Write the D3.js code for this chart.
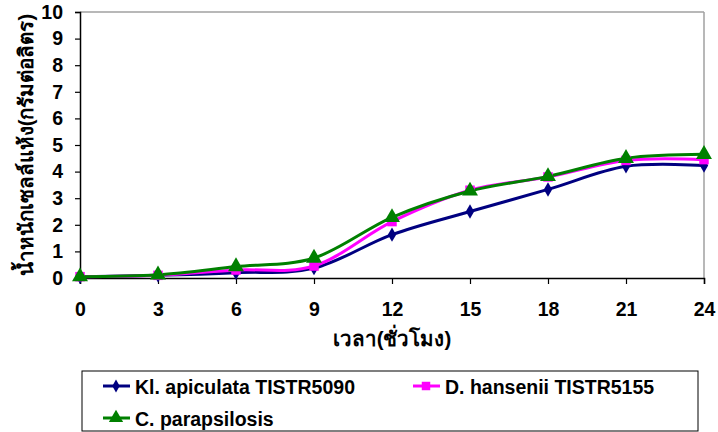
<!DOCTYPE html>
<html>
<head>
<meta charset="utf-8">
<script src="https://cdn.jsdelivr.net/npm/d3@7"></script>
<style>
  body { margin: 0; background: #fff; }
  text { font-family: "Liberation Sans", Arial, sans-serif; font-weight: bold; }
</style>
</head>
<body>
<div id="chart"></div>
<script>
// chart data
var hours = [0, 3, 6, 9, 12, 15, 18, 21, 24];
var kloeckera = [0.05, 0.1, 0.2, 0.37, 1.63, 2.5, 3.33, 4.2, 4.23];
var hansenii = [0.05, 0.1, 0.3, 0.45, 2.12, 3.3, 3.8, 4.42, 4.45];
var parapsilosis = [0.05, 0.12, 0.43, 0.75, 2.28, 3.27, 3.82, 4.5, 4.65];
var seriesNames = ["Kl. apiculata TISTR5090", "D. hansenii TISTR5155", "C. parapsilosis"];
var yTicks = [0, 1, 2, 3, 4, 5, 6, 7, 8, 9, 10];

var svgWidth = 718;
var svgHeight = 432;

var svg = d3.select("#chart")
  .append("svg")
  .attr("width", svgWidth)
  .attr("height", svgHeight);

var x = d3.scaleLinear().domain([0, 24]).range([80, 704]);
var y = d3.scaleLinear().domain([0, 10]).range([278, 12]);

// plot area border (top and right are grey)
svg.append("line").attr("x1", 80).attr("x2", 704).attr("y1", 12).attr("y2", 12)
  .attr("stroke", "#a0a0a0").attr("stroke-width", 1.5);
svg.append("line").attr("x1", 704).attr("x2", 704).attr("y1", 12).attr("y2", 278)
  .attr("stroke", "#a0a0a0").attr("stroke-width", 1.5);

// axes
var xAxis = svg.append("g")
  .attr("transform", "translate(0,278)")
  .call(d3.axisBottom(x).tickValues(hours).tickSize(6).tickPadding(18));
var yAxis = svg.append("g")
  .attr("transform", "translate(80,0)")
  .call(d3.axisLeft(y).tickValues(yTicks).tickSize(5).tickPadding(12));

[xAxis, yAxis].forEach(function(ax) {
  ax.select(".domain").attr("stroke", "#000").attr("stroke-width", 1.5);
  ax.selectAll(".tick line").attr("stroke", "#000").attr("stroke-width", 1.2);
  ax.selectAll("text")
    .attr("fill", "#000")
    .style("font-size", "19.5px")
    .style("font-family", "'Liberation Sans', Arial, sans-serif")
    .style("font-weight", "bold");
});

// axis titles
svg.append("text")
  .attr("x", 392).attr("y", 346)
  .attr("text-anchor", "middle")
  .style("font-size", "20.5px")
  .text("เวลา(ชั่วโมง)");

svg.append("text")
  .attr("transform", "translate(33,145) rotate(-90)")
  .attr("text-anchor", "middle")
  .style("font-size", "20.5px")
  .text("น้ำหนักเซลล์แห้ง(กรัมต่อลิตร)");

// lines + markers
var series = [
  { name: seriesNames[0], values: kloeckera, color: "#000080", symbol: d3.symbolDiamond, size: 60 },
  { name: seriesNames[1], values: hansenii, color: "#ff00ff", symbol: d3.symbolSquare, size: 90 },
  { name: seriesNames[2], values: parapsilosis, color: "#008000", symbol: d3.symbolTriangle, size: 110 }
];

var line = d3.line()
  .x(function(d, i) { return x(hours[i]); })
  .y(function(d) { return y(d); })
  .curve(d3.curveCardinal.tension(0));

series.forEach(function(s) {
  svg.append("path")
    .datum(s.values)
    .attr("d", line)
    .attr("fill", "none")
    .attr("stroke", s.color)
    .attr("stroke-width", 3);
});

series.forEach(function(s) {
  svg.selectAll(null)
    .data(s.values)
    .enter()
    .append("path")
    .attr("d", d3.symbol().type(s.symbol).size(s.size))
    .attr("transform", function(d, i) { return "translate(" + x(hours[i]) + "," + y(d) + ")"; })
    .attr("fill", s.color);
});

// legend
var legend = svg.append("g");
legend.append("rect")
  .attr("x", 82).attr("y", 371)
  .attr("width", 616).attr("height", 60)
  .attr("fill", "#fff")
  .attr("stroke", "#000")
  .attr("stroke-width", 1);

var legendPos = [[103, 386], [413, 386], [103, 418]];
series.forEach(function(s, i) {
  var lx = legendPos[i][0], ly = legendPos[i][1];
  legend.append("line")
    .attr("x1", lx).attr("x2", lx + 27)
    .attr("y1", ly).attr("y2", ly)
    .attr("stroke", s.color).attr("stroke-width", 3);
  legend.append("path")
    .attr("d", d3.symbol().type(s.symbol).size(s.size * 0.8))
    .attr("transform", "translate(" + (lx + 13) + "," + ly + ")")
    .attr("fill", s.color);
  legend.append("text")
    .attr("x", lx + 32).attr("y", ly + 8)
    .style("font-size", "19.5px")
    .text(s.name);
});
</script>
</body>
</html>
